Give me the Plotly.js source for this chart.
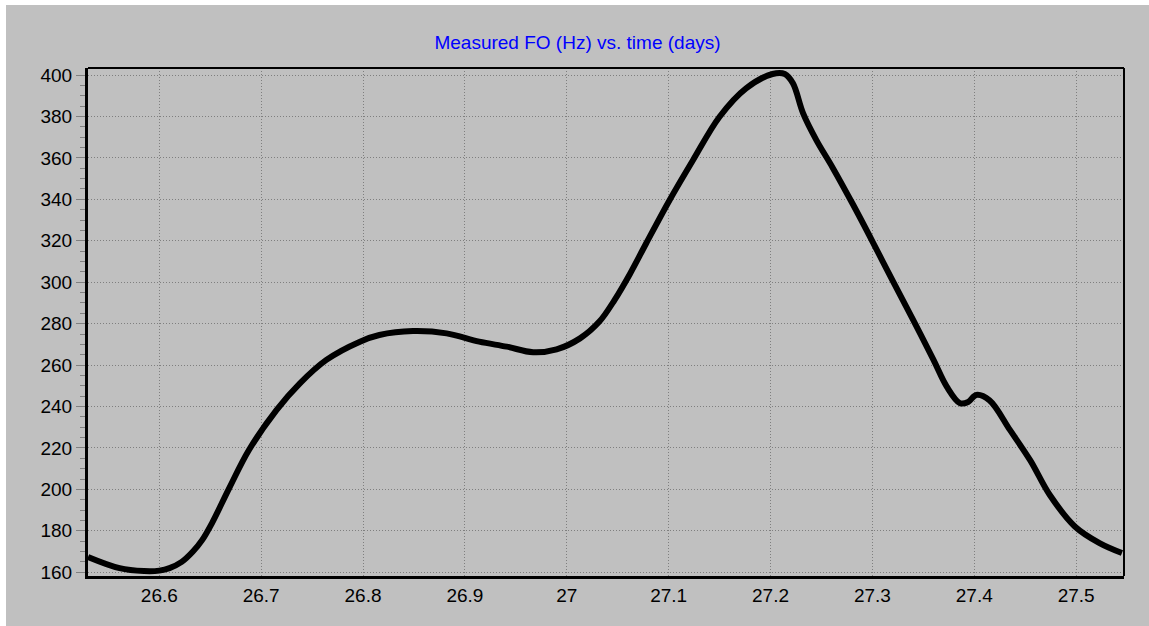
<!DOCTYPE html>
<html>
<head>
<meta charset="utf-8">
<script src="https://cdn.plot.ly/plotly-3.0.1.min.js"></script>
<style>
html,body{margin:0;padding:0;background:#ffffff;width:1149px;height:626px;overflow:hidden;}
#chart{position:absolute;left:6px;top:5px;width:1143px;height:621px;}
</style>
</head>
<body>
<div id="chart"></div>
<script>
const timeDays = [26.530, 26.561, 26.585, 26.600, 26.610, 26.622, 26.633, 26.642, 26.652, 26.669, 26.688, 26.715, 26.738, 26.764, 26.797, 26.816, 26.849, 26.882, 26.914, 26.941, 26.967, 26.990, 27.013, 27.032, 27.047, 27.062, 27.078, 27.101, 27.124, 27.150, 27.176, 27.202, 27.214, 27.222, 27.232, 27.245, 27.261, 27.281, 27.301, 27.320, 27.340, 27.360, 27.373, 27.386, 27.394, 27.402, 27.415, 27.435, 27.455, 27.474, 27.499, 27.523, 27.545];
const foHz = [167.4, 162.0, 160.6, 160.8, 162.0, 165.0, 170.0, 175.5, 184.0, 201.0, 219.0, 238.3, 251.2, 262.5, 271.3, 274.5, 276.4, 275.3, 271.3, 268.9, 266.2, 267.6, 272.9, 281.0, 291.5, 304.0, 318.8, 339.7, 359.0, 379.9, 393.6, 400.5, 400.5, 396.0, 381.5, 368.6, 355.3, 337.5, 318.8, 300.6, 281.8, 262.5, 249.6, 241.6, 242.2, 245.6, 243.0, 228.7, 214.0, 197.4, 182.0, 174.1, 169.3];
const xTickVals = [26.6, 26.7, 26.8, 26.9, 27.0, 27.1, 27.2, 27.3, 27.4, 27.5];
const xTickText = ["26.6", "26.7", "26.8", "26.9", "27", "27.1", "27.2", "27.3", "27.4", "27.5"];
const yTickVals = [160, 180, 200, 220, 240, 260, 280, 300, 320, 340, 360, 380, 400];
const chartTitle = "Measured FO (Hz) vs. time (days)";

const trace = {
  x: timeDays, y: foHz, type: 'scatter', mode: 'lines',
  line: {color: '#000000', width: 6, shape: 'spline', smoothing: 1},
  hoverinfo: 'x+y'
};

const layout = {
  width: 1143, height: 621,
  paper_bgcolor: '#c0c0c0', plot_bgcolor: '#c0c0c0',
  margin: {l: 82, r: 25, t: 63, b: 50, pad: 0},
  showlegend: false,
  font: {family: 'Liberation Sans, Arial, sans-serif', size: 19, color: '#000000'},
  title: {text: chartTitle, font: {family: 'Liberation Sans, Arial, sans-serif', size: 19, color: '#0000ff'},
          x: 0.5, xanchor: 'center', y: 0.94, yanchor: 'middle'},
  xaxis: {
    range: [26.53, 27.547], tickvals: xTickVals, ticktext: xTickText,
    showgrid: true, gridcolor: '#7f7f7f', griddash: '1px,2px', gridwidth: 1,
    zeroline: false, showline: true, linecolor: '#000000', linewidth: 3,
    ticks: '', ticklen: 0, tickfont: {size: 19, color: '#000000'}
  },
  yaxis: {
    range: [158.2, 403.4], tickvals: yTickVals,
    showgrid: true, gridcolor: '#7f7f7f', griddash: '1px,2px', gridwidth: 1,
    zeroline: false, showline: true, linecolor: '#000000', linewidth: 3,
    ticks: 'outside', ticklen: 9, tickwidth: 1, tickcolor: '#808080',
    minor: {dtick: 5, ticks: 'outside', ticklen: 5, tickcolor: '#808080', tickwidth: 1, showgrid: false},
    tickfont: {size: 19, color: '#000000'}
  },
  shapes: [
    {type: 'line', xref: 'paper', yref: 'paper', x0: 0, x1: 1, y0: 1, y1: 1, line: {color: '#000000', width: 2}},
    {type: 'line', xref: 'paper', yref: 'paper', x0: 1, x1: 1, y0: 0, y1: 1, line: {color: '#000000', width: 2}}
  ]
};

Plotly.newPlot('chart', [trace], layout, {displayModeBar: false, staticPlot: true});
</script>
</body>
</html>
